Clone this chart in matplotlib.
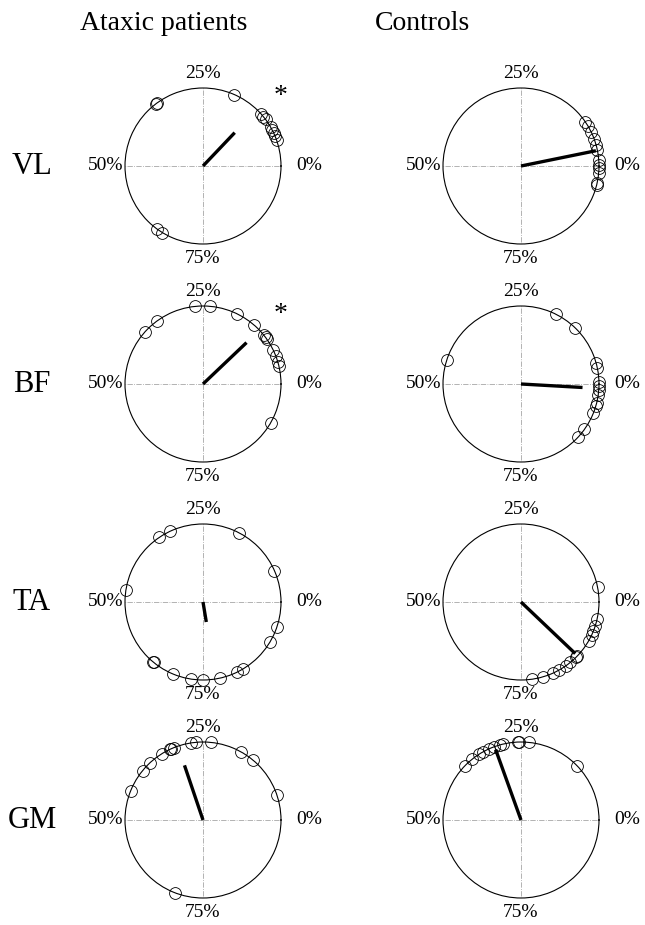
import numpy as np
import matplotlib
matplotlib.use('Agg')
import matplotlib.pyplot as plt

plt.rcParams['font.family'] = ['Liberation Serif', 'DejaVu Serif']

# phase of each subject's burst, % of gait cycle (0% = right, counter-clockwise)
muscles = ['VL', 'BF', 'TA', 'GM']
groups = ['Ataxic patients', 'Controls']

vl_ataxic = [35.0, 35.3, 18.4, 11.6, 10.9, 10.2, 8.3, 7.6, 6.9, 6.2, 5.4, 65.0, 66.3]
vl_control = [9.6, 8.5, 7.2, 5.7, 4.3, 3.2, 1.2, 0.3, 99.5, 98.5, 96.5, 96.0]
bf_ataxic = [26.7, 23.6, 17.9, 13.7, 10.7, 10.2, 9.7, 7.1, 5.8, 4.6, 3.8, 91.7, 35.0, 38.4]
bf_control = [17.6, 12.8, 4.4, 3.3, 0.4, 99.6, 98.8, 97.7, 96.0, 95.5, 93.9, 90.1, 88.0, 45.0]
ta_ataxic = [34.5, 32.0, 17.4, 6.6, 47.6, 94.8, 91.5, 63.9, 64.1, 68.8, 72.6, 74.9, 78.6, 82.2, 83.6]
ta_control = [3.1, 96.6, 95.0, 93.9, 93.0, 91.7, 87.8, 87.5, 85.9, 84.7, 83.1, 81.8, 79.5, 77.3]
gm_ataxic = [23.3, 26.5, 27.4, 31.1, 31.7, 32.0, 33.9, 36.9, 39.1, 43.9, 17.0, 14.0, 5.2, 69.1]
gm_control = [12.3, 23.4, 25.4, 25.7, 28.7, 29.4, 30.6, 31.8, 33.0, 34.0, 35.7, 37.7]

# mean vector: phase (%) and length (0..1)
mean_phase = {'VL': (12.9, 3.2), 'BF': (12.1, 99.1), 'TA': (77.6, 87.9), 'GM': (30.2, 30.5)}
mean_len = {'VL': (0.59, 0.98), 'BF': (0.77, 0.79), 'TA': (0.26, 0.96), 'GM': (0.74, 0.96)}
signif = {'VL': (True, False), 'BF': (True, False), 'TA': (False, False), 'GM': (False, False)}

phases = {'VL': (vl_ataxic, vl_control), 'BF': (bf_ataxic, bf_control),
          'TA': (ta_ataxic, ta_control), 'GM': (gm_ataxic, gm_control)}


def pct2rad(p):
    return np.asarray(p, dtype=float) / 100.0 * 2 * np.pi


W, H = 645, 925
fig = plt.figure(figsize=(W / 100, H / 100), dpi=100)

R = 78
col_cx = [203, 521]
row_cy = [166, 384, 602, 820]

for i, m in enumerate(muscles):
    for j in range(2):
        cx, cy = col_cx[j], row_cy[i]
        ax = fig.add_axes([(cx - R) / W, 1 - (cy + R) / H, 2 * R / W, 2 * R / H],
                          projection='polar')
        ax.set_ylim(0, 1)
        ax.set_yticks([])
        ax.set_xticks(pct2rad([0, 25, 50, 75]))
        ax.set_xticklabels([])
        ax.tick_params(axis='x', length=0)
        ax.grid(True, axis='x', linestyle='-.', color='0.65', linewidth=0.6)
        ax.spines['polar'].set_linewidth(0.8)
        ax.set_facecolor('none')

        th = pct2rad(phases[m][j])
        ax.plot(th, np.ones_like(th), 'o', mfc='none', mec='k', ms=8.5, mew=0.6,
                clip_on=False, zorder=3)

        a = pct2rad(mean_phase[m][j])
        ax.plot([a, a], [0, mean_len[m][j]], color='k', lw=2.4,
                solid_capstyle='butt', zorder=4)

        # phase labels
        ax.text(pct2rad(0), 1.2, '0%', ha='left', va='center', fontsize=14)
        ax.text(pct2rad(50), 1.02, '50%', ha='right', va='center', fontsize=14)
        ax.text(pct2rad(25), 1.19, '25%', ha='center', va='center', fontsize=14)
        ax.text(pct2rad(75), 1.19, '75%', ha='center', va='center', fontsize=14)

        if signif[m][j]:
            ax.text(np.deg2rad(42), 1.33, '*', ha='center', va='center', fontsize=20)

    fig.text(32 / W, 1 - row_cy[i] / H, m, ha='center', va='center', fontsize=22)

fig.text(164 / W, 1 - 23 / H, groups[0], ha='center', va='center', fontsize=20)
fig.text(423 / W, 1 - 23 / H, groups[1], ha='center', va='center', fontsize=20)

fig.savefig('out.png', dpi=100)
